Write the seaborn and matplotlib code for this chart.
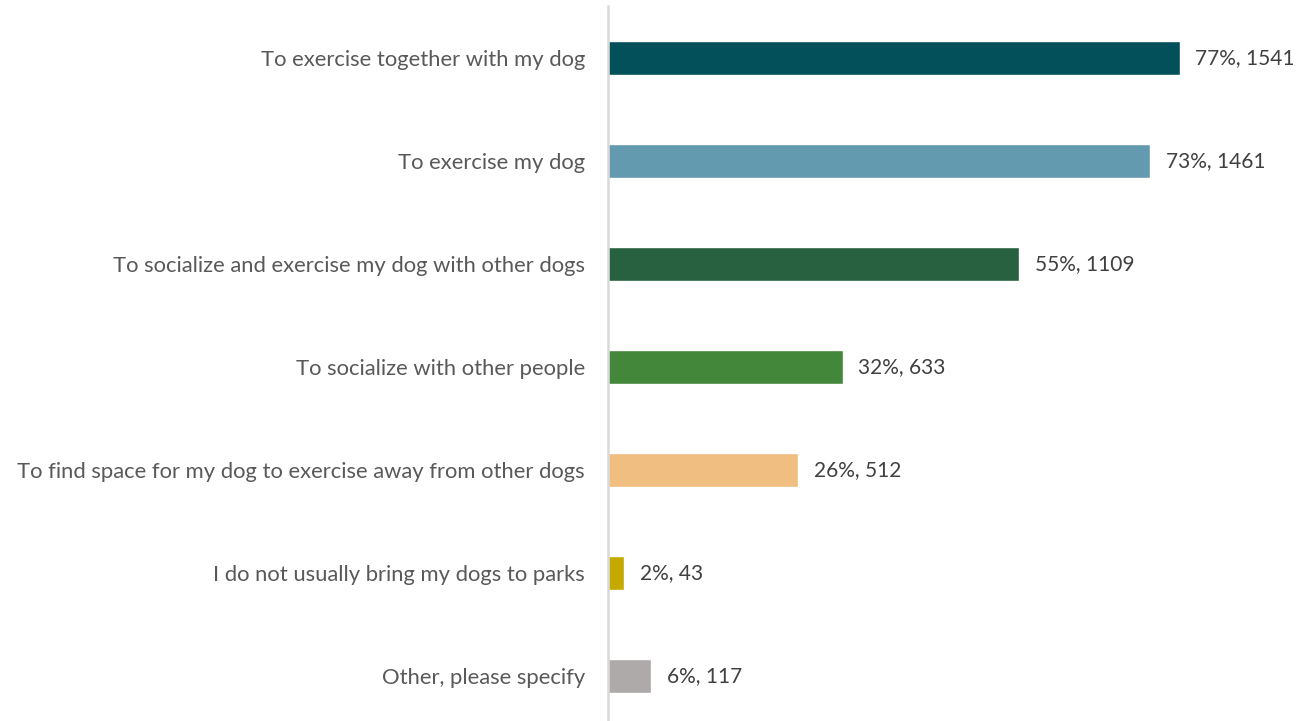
import matplotlib
matplotlib.use("Agg")
import matplotlib.pyplot as plt
import seaborn as sns
import pandas as pd

categories = [
    "To exercise together with my dog",
    "To exercise my dog",
    "To socialize and exercise my dog with other dogs",
    "To socialize with other people",
    "To find space for my dog to exercise away from other dogs",
    "I do not usually bring my dogs to parks",
    "Other, please specify",
]
percents = [77.05, 73.05, 55.45, 31.65, 25.6, 2.15, 5.85]
counts = [1541, 1461, 1109, 633, 512, 43, 117]
value_labels = ["77%, 1541", "73%, 1461", "55%, 1109", "32%, 633", "26%, 512", "2%, 43", "6%, 117"]
colors = ["#034F5A", "#639AB0", "#27613F", "#43873A", "#F0BE80", "#C4AA00", "#ADAAA9"]

sns.set_theme(style="white")
plt.rcParams["font.family"] = ["Lato", "DejaVu Sans"]

df = pd.DataFrame({"category": categories, "percent": percents})

fig = plt.figure(figsize=(13.09, 7.21), dpi=100)
ax = fig.add_axes([608 / 1309, 0.0, (1300 - 608) / 1309, 715 / 721])
sns.barplot(data=df, y="category", x="percent", hue="category", palette=colors,
            legend=False, width=0.33, ax=ax, orient="h", saturation=1)

ax.set_xlim(0, (1300 - 608) / 7.42)
ax.set_ylim(6.44, -0.505)
ax.set_xlabel("")
ax.set_ylabel("")
ax.set_xticks([])
for s in ["top", "right", "bottom"]:
    ax.spines[s].set_visible(False)
ax.spines["left"].set_color("#D9D9D9")
ax.spines["left"].set_linewidth(1.8)
ax.tick_params(axis="y", length=0, pad=16.5, labelsize=15.8, labelcolor="#595959")

for i, (p, lab) in enumerate(zip(percents, value_labels)):
    ax.text(p + 2.1, i, lab, va="center", ha="left", fontsize=15, color="#404040")

fig.savefig("out.png", dpi=100)
